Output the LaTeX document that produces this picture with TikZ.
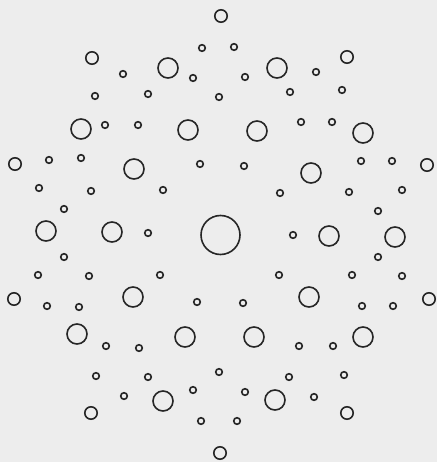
\documentclass[tikz,border=0pt]{standalone}
\usepackage{tikz}

\begin{document}
\begin{tikzpicture}[
    x=1pt, y=-1pt,
    paper/.style={fill=black!7, draw=none},
    spot/.style={draw=black!85, line width=1.6pt},
]
% background sheet
\fill[paper] (0,0) rectangle (437,462);
\useasboundingbox (0,0) rectangle (437,462);

% central spot
\draw[spot] (220.5,235) circle[radius=19.5pt];

% large spots
\foreach \x/\y in {168/68, 277/68, 81/129, 188/130, 257/131, 363/133,
                   134/169, 311/173, 46/231, 112/232, 329/236, 395/237,
                   133/297, 309/297, 77/334, 185/337, 254/337, 363/337,
                   163/401, 275/400}
    \draw[spot] (\x,\y) circle[radius=10pt];

% medium spots
\foreach \x/\y in {221/16, 92/58, 347/57, 15/164, 427/165,
                   14/299, 429/299, 91/413, 347/413, 220/453}
    \draw[spot] (\x,\y) circle[radius=6.2pt];

% small spots
\foreach \x/\y in {202/48, 234/47, 123/74, 193/78, 245/77, 316/72,
                   95/96, 148/94, 219/97, 290/92, 342/90,
                   105/125, 138/125, 301/122, 332/122,
                   49/160, 81/158, 200/164, 244/166, 361/161, 392/161,
                   39/188, 91/191, 163/190, 280/193, 349/192, 402/190,
                   64/209, 378/211, 148/233, 293/235, 64/257, 378/257,
                   38/275, 89/276, 160/275, 279/275, 352/275, 402/276,
                   47/306, 79/307, 197/302, 243/303, 362/306, 393/306,
                   106/346, 139/348, 299/346, 333/346,
                   96/376, 148/377, 219/372, 289/377, 344/375,
                   124/396, 193/390, 245/392, 314/397, 201/421, 237/421}
    \draw[spot] (\x,\y) circle[radius=3.3pt];
\end{tikzpicture}
\end{document}
